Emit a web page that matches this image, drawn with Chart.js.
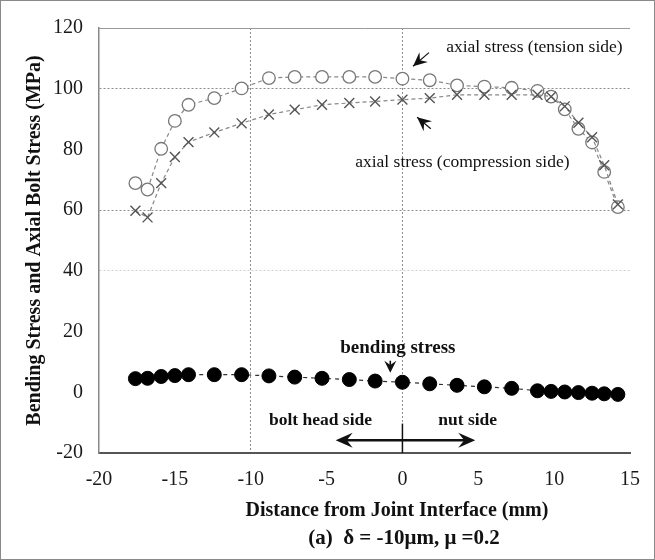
<!DOCTYPE html>
<html>
<head>
<meta charset="utf-8">
<script src="https://cdn.jsdelivr.net/npm/chart.js@4.4.0/dist/chart.umd.min.js"></script>
<style>
  html, body { margin: 0; padding: 0; background: #fff; }
  canvas { display: block; }
</style>
</head>
<body>
<canvas id="myChart" width="655" height="560"></canvas>
<script>
// measuring positions along the bolt (mm)
const positions = [-17.6, -16.8, -15.9, -15.0, -14.1, -12.4, -10.6, -8.8, -7.1, -5.3, -3.5, -1.8,
    0, 1.8, 3.6, 5.4, 7.2, 8.9, 9.8, 10.7, 11.6, 12.5, 13.3, 14.2];

// axial stress, tension side (open circles)
const tensionSide = [68.9, 66.8, 80.2, 89.4, 94.7, 96.9, 100.1, 103.5, 103.9, 103.9, 103.9, 103.9,
    103.3, 102.8, 101.1, 100.7, 100.3, 99.3, 97.4, 93.2, 86.8, 82.3, 72.6, 61.0];

// axial stress, compression side (crosses)
const compressionSide = [59.8, 57.6, 68.9, 77.5, 82.4, 85.6, 88.6, 91.5, 93.1, 94.7, 95.3, 95.8,
    96.4, 96.9, 98.0, 98.0, 98.0, 98.0, 97.4, 94.2, 88.8, 84.0, 74.8, 61.9];

// bending stress (filled circles)
const bendingStress = [4.5, 4.6, 5.2, 5.5, 5.8, 5.8, 5.8, 5.4, 5.0, 4.6, 4.2, 3.7,
    3.3, 2.8, 2.3, 1.8, 1.3, 0.5, 0.3, 0.1, -0.1, -0.3, -0.5, -0.7];

const xTicks = [-20, -15, -10, -5, 0, 5, 10, 15];
const yTicks = [-20, 0, 20, 40, 60, 80, 100, 120];

const serif = "'Liberation Serif', 'Times New Roman', serif";

function toPoints(values) {
    return values.map((v, i) => ({ x: positions[i], y: v }));
}

// small swept arrow head, tip at (tx, ty), pointing away from (fx, fy)
function arrowHead(ctx, fx, fy, tx, ty, len, half) {
    const ang = Math.atan2(ty - fy, tx - fx);
    ctx.save();
    ctx.translate(tx, ty);
    ctx.rotate(ang);
    ctx.beginPath();
    ctx.moveTo(0, 0);
    ctx.lineTo(-len, -half);
    ctx.lineTo(-len * 0.65, 0);
    ctx.lineTo(-len, half);
    ctx.closePath();
    ctx.fill();
    ctx.restore();
}

const notes = {
    id: 'notes',
    afterDraw(chart) {
        const { ctx, chartArea: a, scales: { x, y } } = chart;
        ctx.save();

        // outer frame
        ctx.strokeStyle = '#8a8a8a';
        ctx.lineWidth = 1;
        ctx.strokeRect(0.5, 0.5, chart.width - 1, chart.height - 1);

        // top edge of the plot
        ctx.strokeStyle = '#999';
        ctx.beginPath();
        ctx.moveTo(a.left, a.top + 0.5);
        ctx.lineTo(a.right, a.top + 0.5);
        ctx.stroke();

        ctx.fillStyle = '#111';
        ctx.textAlign = 'center';
        ctx.textBaseline = 'middle';

        ctx.font = '17.5px ' + serif;
        ctx.fillText('axial stress (tension side)', x.getPixelForValue(8.7), y.getPixelForValue(113.5));
        ctx.fillText('axial stress (compression side)', x.getPixelForValue(3.95), y.getPixelForValue(75.8));

        ctx.strokeStyle = '#111';
        ctx.lineWidth = 1.2;
        // tension arrow
        let fx = x.getPixelForValue(1.75), fy = y.getPixelForValue(111.9);
        let tx = x.getPixelForValue(0.7), ty = y.getPixelForValue(107.4);
        ctx.beginPath(); ctx.moveTo(fx, fy); ctx.lineTo(tx, ty); ctx.stroke();
        arrowHead(ctx, fx, fy, tx, ty, 14, 6.5);
        // compression arrow
        fx = x.getPixelForValue(1.87); fy = y.getPixelForValue(86.8);
        tx = x.getPixelForValue(0.97); ty = y.getPixelForValue(90.6);
        ctx.beginPath(); ctx.moveTo(fx, fy); ctx.lineTo(tx, ty); ctx.stroke();
        arrowHead(ctx, fx, fy, tx, ty, 14, 6.5);

        // bending stress label and arrow
        ctx.font = 'bold 19px ' + serif;
        ctx.fillText('bending stress', x.getPixelForValue(-0.3), y.getPixelForValue(14.6));
        fx = x.getPixelForValue(-0.8); fy = y.getPixelForValue(10.4);
        tx = fx; ty = y.getPixelForValue(6.4);
        ctx.lineWidth = 1.6;
        ctx.beginPath(); ctx.moveTo(fx, fy); ctx.lineTo(tx, ty - 3); ctx.stroke();
        arrowHead(ctx, fx, fy, tx, ty, 12, 6);

        // bolt head side / nut side
        ctx.font = 'bold 17.5px ' + serif;
        ctx.fillText('bolt head side', x.getPixelForValue(-5.4), y.getPixelForValue(-9.2));
        ctx.fillText('nut side', x.getPixelForValue(4.3), y.getPixelForValue(-9.2));
        const ay = y.getPixelForValue(-15.8);
        const ax1 = x.getPixelForValue(-4.4), ax2 = x.getPixelForValue(4.8);
        ctx.lineWidth = 2.5;
        ctx.beginPath(); ctx.moveTo(ax1 + 8, ay); ctx.lineTo(ax2 - 8, ay); ctx.stroke();
        arrowHead(ctx, ax1 + 20, ay, ax1, ay, 17, 7.5);
        arrowHead(ctx, ax2 - 20, ay, ax2, ay, 17, 7.5);
        ctx.lineWidth = 1.5;
        const x0 = x.getPixelForValue(0);
        ctx.beginPath(); ctx.moveTo(x0, y.getPixelForValue(-10.3)); ctx.lineTo(x0, a.bottom); ctx.stroke();

        // axis title and caption
        ctx.font = 'bold 20px ' + serif;
        ctx.fillText('Distance from Joint Interface (mm)', 397, a.bottom + 58);
        ctx.font = 'bold 21px ' + serif;
        ctx.fillText('(a)  \u03b4 = -10\u03bcm, \u03bc =0.2', 404, a.bottom + 86);

        ctx.restore();
    }
};

const ctx = document.getElementById('myChart').getContext('2d');
const myChart = new Chart(ctx, {
    type: 'scatter',
    data: {
        datasets: [
            {
                label: 'bending stress',
                data: toPoints(bendingStress),
                showLine: true,
                borderColor: '#333',
                borderWidth: 1.2,
                borderDash: [4, 4],
                pointStyle: 'circle',
                pointRadius: 7,
                pointBackgroundColor: '#000',
                pointBorderColor: '#000',
                pointBorderWidth: 1
            },
            {
                label: 'axial stress (compression side)',
                data: toPoints(compressionSide),
                showLine: true,
                borderColor: '#888',
                borderWidth: 1.2,
                borderDash: [4, 3],
                pointStyle: 'crossRot',
                pointRadius: 7,
                pointBorderColor: '#555',
                pointBorderWidth: 1.4
            },
            {
                label: 'axial stress (tension side)',
                data: toPoints(tensionSide),
                showLine: true,
                borderColor: '#888',
                borderWidth: 1.2,
                borderDash: [4, 3],
                pointStyle: 'circle',
                pointRadius: 6.3,
                pointBackgroundColor: '#fff',
                pointBorderColor: '#777',
                pointBorderWidth: 1.3
            }
        ]
    },
    options: {
        responsive: false,
        animation: false,
        layout: { padding: { top: 22, right: 12, left: 0, bottom: 0 } },
        plugins: {
            legend: { display: false },
            tooltip: { enabled: false }
        },
        scales: {
            x: {
                type: 'linear',
                min: -20,
                max: 15,
                afterFit: s => { s.height = 107; },
                afterBuildTicks: s => { s.ticks = xTicks.map(v => ({ value: v })); },
                ticks: { padding: 15, color: '#1a1a1a', font: { family: serif, size: 20 } },
                grid: {
                    drawTicks: false,
                    color: c => (c.tick && (c.tick.value === -10 || c.tick.value === 0)) ? '#8c8c8c' : 'rgba(0,0,0,0)',
                    lineWidth: 1
                },
                border: { color: '#555', width: 2, dash: [2, 2] }
            },
            y: {
                type: 'linear',
                min: -20,
                max: 120,
                afterFit: s => { s.width = 99; },
                afterBuildTicks: s => { s.ticks = yTicks.map(v => ({ value: v })); },
                ticks: { padding: 16, color: '#1a1a1a', font: { family: serif, size: 20 } },
                grid: {
                    drawTicks: false,
                    color: c => {
                        if (!c.tick) return 'rgba(0,0,0,0)';
                        const v = c.tick.value;
                        if (v === 100 || v === 60) return '#8c8c8c';
                        if (v === 40) return '#cfcfcf';
                        return 'rgba(0,0,0,0)';
                    },
                    lineWidth: 1
                },
                border: { color: '#888', width: 1.5, dash: [2, 2] },
                title: {
                    display: true,
                    text: 'Bending Stress and Axial Bolt Stress (MPa)',
                    color: '#111',
                    font: { family: serif, size: 20, weight: 'bold' },
                    padding: { top: 23, bottom: 0 }
                }
            }
        }
    },
    plugins: [notes]
});
</script>
</body>
</html>
